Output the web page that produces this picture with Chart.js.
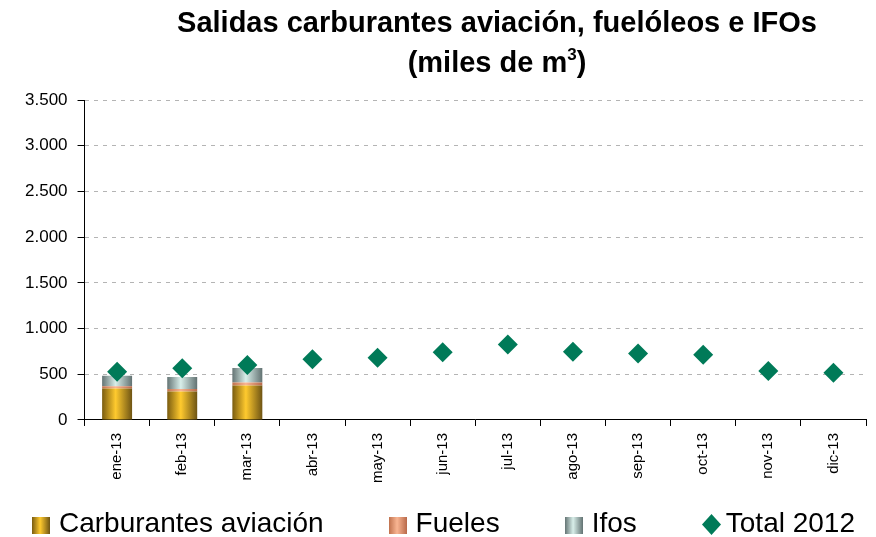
<!DOCTYPE html>
<html>
<head>
<meta charset="utf-8">
<script src="https://cdn.jsdelivr.net/npm/chart.js@4/dist/chart.umd.min.js"></script>
<style>
  html, body { margin: 0; padding: 0; background: #fff; }
  #wrap { width: 876px; height: 537px; position: relative; }
  #legend {
    position: absolute; left: 32px; top: 508px;
    display: flex; align-items: center; gap: 65px;
    font-family: "Liberation Sans", Arial, sans-serif; font-size: 28px; color: #000;
    line-height: 30px; white-space: nowrap;
  }
  #legend .item { display: flex; align-items: center; gap: 9px; }
  #legend .item.total { gap: 5px; }
  #legend .sw { display: inline-block; width: 18px; height: 17px; margin-top: 5px; }
  #legend .dia { display: inline-block; width: 19px; height: 21px; margin-top: 3px; }
</style>
</head>
<body>
<div id="wrap">
  <canvas id="chart"></canvas>
  <div id="legend"></div>
</div>
<script>
const months = ['ene-13', 'feb-13', 'mar-13', 'abr-13', 'may-13', 'jun-13',
  'jul-13', 'ago-13', 'sep-13', 'oct-13', 'nov-13', 'dic-13'];
const carburantes = [343, 311, 376, null, null, null, null, null, null, null, null, null];
const fueles = [27, 29, 33, null, null, null, null, null, null, null, null, null];
const ifos = [115, 131, 160, null, null, null, null, null, null, null, null, null];
const total2012 = [528, 565, 601, 663, 680, 742, 826, 745, 728, 713, 536, 517];
const yTicks = [0, 500, 1000, 1500, 2000, 2500, 3000, 3500];
const seriesNames = ['Carburantes aviación', 'Fueles', 'Ifos', 'Total 2012'];
const titleLines = ['Salidas carburantes aviación, fuelóleos e IFOs', '(miles de m', '3', ')'];

const FONT = '"Liberation Sans", Arial, sans-serif';

// edge / center / edge colours for the cylinder look
const shades = {
  carb: ['#7a5c10', '#ffca2e', '#6e5414'],
  fuel: ['#c0724e', '#f9b592', '#b8694a'],
  ifos: ['#647474', '#d8eee9', '#627272'],
};
const totalColor = '#007a58';

function cylGradient(c, x0, x1, cols) {
  const g = c.createLinearGradient(x0, 0, x1, 0);
  g.addColorStop(0, cols[0]);
  g.addColorStop(0.45, cols[1]);
  g.addColorStop(1, cols[2]);
  return g;
}

const barPct = 0.46;
function barFill(key) {
  return (ctx) => {
    const chart = ctx.chart;
    const xs = chart.scales && chart.scales.x;
    if (!xs || ctx.dataIndex === undefined) return shades[key][1];
    const cx = xs.getPixelForValue(ctx.dataIndex);
    const half = (xs.width / months.length) * barPct / 2;
    if (!isFinite(cx) || !isFinite(half) || half <= 0) return shades[key][1];
    return cylGradient(chart.ctx, cx - half, cx + half, shades[key]);
  };
}

const fmt = v => String(v).replace(/\B(?=(\d{3})+(?!\d))/g, '.');

const titlePlugin = {
  id: 'excelTitle',
  afterDraw(chart) {
    const c = chart.ctx;
    const big = 'bold 29px ' + FONT;
    const small = 'bold 17px ' + FONT;
    const cx = 497;
    c.save();
    c.fillStyle = '#000';
    c.textBaseline = 'alphabetic';
    c.font = big;
    c.textAlign = 'center';
    c.fillText(titleLines[0], cx, 32);
    // second line, with a raised "3"
    const wA = c.measureText(titleLines[1]).width;
    const wC = c.measureText(titleLines[3]).width;
    c.font = small;
    const wB = c.measureText(titleLines[2]).width;
    const start = cx - (wA + wB + wC) / 2;
    c.textAlign = 'left';
    c.font = big;
    c.fillText(titleLines[1], start, 72);
    c.font = small;
    c.fillText(titleLines[2], start + wA, 60);
    c.font = big;
    c.fillText(titleLines[3], start + wA + wB, 72);
    c.restore();
  }
};

// custom legend, same look as the spreadsheet one
const swatchCss = cols => `linear-gradient(to right, ${cols[0]}, ${cols[1]} 45%, ${cols[2]})`;
const legendEl = document.getElementById('legend');
[['carb', seriesNames[0]], ['fuel', seriesNames[1]], ['ifos', seriesNames[2]]].forEach(([key, name]) => {
  const item = document.createElement('span');
  item.className = 'item';
  item.innerHTML = `<span class="sw" style="background:${swatchCss(shades[key])}"></span><span>${name}</span>`;
  legendEl.appendChild(item);
});
const totalItem = document.createElement('span');
totalItem.className = 'item total';
totalItem.innerHTML = `<svg class="dia" viewBox="0 0 19 21"><polygon points="9.5,0 19,10.5 9.5,21 0,10.5" fill="${totalColor}"/></svg><span>${seriesNames[3]}</span>`;
legendEl.appendChild(totalItem);

new Chart(document.getElementById('chart'), {
  type: 'bar',
  data: {
    labels: months,
    datasets: [
      { label: seriesNames[0], data: carburantes, stack: 'bars',
        backgroundColor: barFill('carb'), borderWidth: 0 },
      { label: seriesNames[1], data: fueles, stack: 'bars',
        backgroundColor: barFill('fuel'), borderWidth: 0 },
      { label: seriesNames[2], data: ifos, stack: 'bars',
        backgroundColor: barFill('ifos'), borderWidth: 0 },
      { type: 'line', label: seriesNames[3], data: total2012, stack: 'total',
        showLine: false, order: -1,
        pointStyle: 'rectRot', pointRadius: 10, pointHoverRadius: 10,
        pointBackgroundColor: totalColor, pointBorderColor: totalColor, pointBorderWidth: 0 },
    ],
  },
  options: {
    responsive: true,
    maintainAspectRatio: false,
    animation: false,
    devicePixelRatio: 1,
    layout: { padding: { top: 100, right: 4, left: 15, bottom: 47 } },
    datasets: { bar: { categoryPercentage: 1, barPercentage: barPct } },
    plugins: {
      title: { display: false },
      legend: { display: false },
      tooltip: { enabled: false },
    },
    scales: {
      x: {
        stacked: true,
        grid: { display: true, drawOnChartArea: false, drawTicks: true, tickLength: 6, tickColor: '#000', offset: true },
        border: { display: true, color: '#000', width: 1 },
        ticks: {
          color: '#000',
          font: { family: FONT, size: 15 },
          minRotation: 90, maxRotation: 90,
          padding: 7,
        },
      },
      y: {
        stacked: true,
        min: 0, max: 3500,
        afterBuildTicks: axis => { axis.ticks = yTicks.map(v => ({ value: v })); },
        grid: { color: '#b4b4b4', lineWidth: 1, tickColor: '#000', tickLength: 7, tickBorderDash: [] },
        border: { display: true, color: '#000', width: 1, dash: [4, 5] },
        ticks: {
          color: '#000',
          font: { family: FONT, size: 17 },
          padding: 10,
          callback: v => fmt(v),
        },
      },
    },
  },
  plugins: [titlePlugin],
});
</script>
</body>
</html>
